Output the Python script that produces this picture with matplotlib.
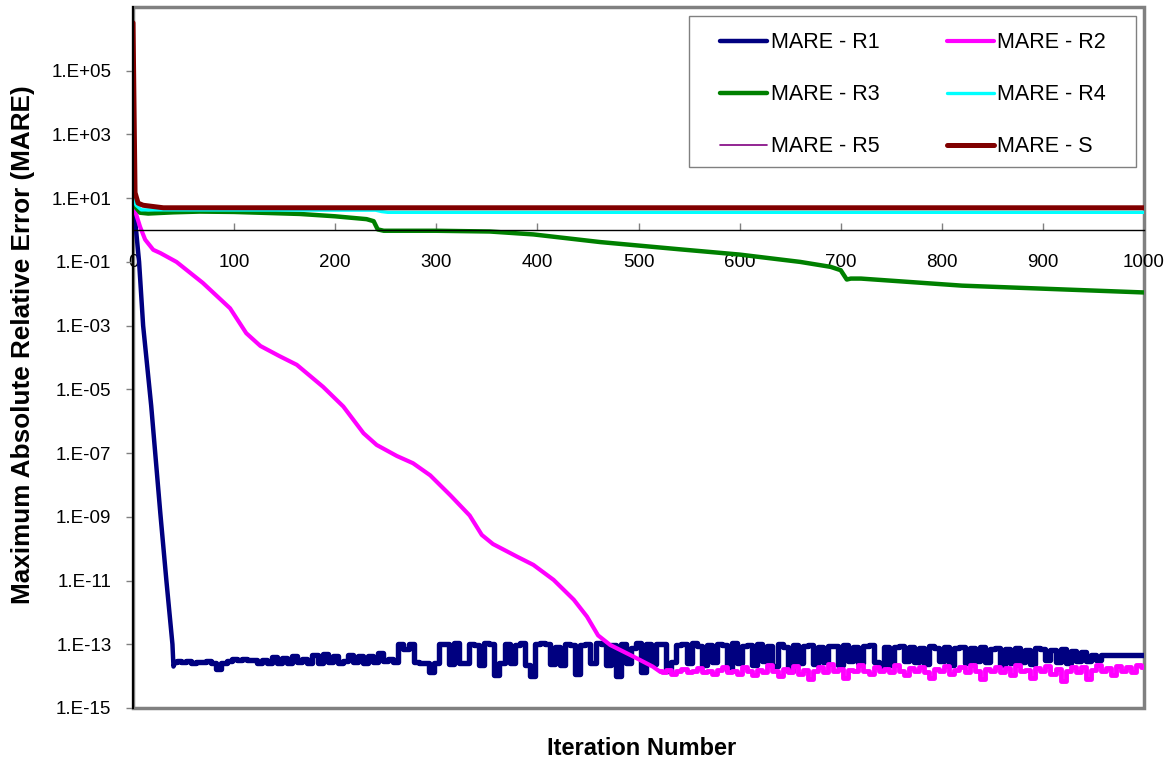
import numpy as np
import matplotlib
matplotlib.use("Agg")
import matplotlib.pyplot as plt
from matplotlib.patches import Rectangle
from matplotlib.ticker import FixedLocator, FuncFormatter, NullLocator

plt.rcParams['font.family'] = ['Liberation Sans', 'DejaVu Sans']

# ---- data (iteration, MARE) ----
# R1: steep drop, then noise floor (noise values in units of 1e-14, every 5 iterations)
r1_head_x = [0, 3, 6, 10, 18, 27, 33, 39, 40, 42]
r1_head_y = [10, 1.0, 0.1, 1e-3, 3e-6, 1.3e-9, 1e-11, 1e-13, 2.0e-14, 2.8e-14]
r1_tail_start = 45
r1_tail_e14 = [
  2.9, 2.7, 2.9, 2.6, 2.8, 2.7, 2.9, 2.5, 1.7, 2.6,
  3.0, 3.4, 3.2, 3.5, 3.3, 3.2, 2.5, 3.1, 2.6, 4.0,
  2.6, 3.6, 2.5, 4.3, 2.7, 3.4, 2.6, 4.5, 2.6, 4.8,
  2.8, 4.2, 2.6, 3.0, 4.6, 2.7, 4.4, 2.6, 4.2, 2.8,
  5.2, 2.9, 3.4, 2.8, 10.5, 7.0, 10.0, 2.7, 2.6, 2.6,
  1.3,
  2.6, 10.5, 10.0, 2.4, 11.0, 2.6, 2.5, 10.2, 9.6, 2.2,
  10.8, 10.1, 1.1, 2.5, 10.4, 2.6, 9.6, 10.9, 2.3, 1.0,
  9.9, 10.6, 10.2, 2.4, 8.4, 2.2, 10.3, 9.8, 1.2, 9.7,
  10.1, 2.5, 10.8, 9.9, 2.3, 9.2, 1.0, 10.4, 2.6, 7.8,
  10.6, 1.3, 9.9, 2.4, 10.2, 10.5, 1.4, 2.7, 9.4, 10.5,
  2.5, 10.7, 8.9, 2.2, 9.6, 2.8, 10.0, 9.3, 1.6, 10.6,
  2.6, 8.7, 9.8, 2.3, 10.2, 2.9, 9.0, 2.1, 10.4, 8.2,
  1.5, 9.8, 2.6, 8.9, 9.5, 2.4, 8.0, 2.7, 9.1, 8.6,
  2.3, 9.4, 2.9, 8.3, 2.5, 8.8, 9.2, 2.8, 1.8, 8.5,
  2.2, 8.1, 8.9, 3.0, 8.4, 2.7, 7.9, 2.4, 8.7, 7.6,
  2.9, 8.3, 2.3, 7.8, 8.0, 2.6, 7.4, 3.0, 8.2, 2.8,
  7.1, 7.7, 2.2, 7.3, 2.5, 7.9, 2.8, 6.8, 2.4, 7.5,
  7.0, 3.1, 6.6, 2.7, 6.9, 2.6, 6.2, 3.0, 5.8, 2.9,
  4.6, 3.3, 4.6, 4.6, 4.5, 4.6, 4.6, 4.5, 4.6, 4.6,
  4.6,
]

# R2: smooth decay, then noise floor (noise in units of 1e-14, every 5 iterations)
r2_head_x = [0, 3, 7, 12, 20, 27, 43, 69, 96, 112, 126, 145, 162, 188, 208, 228, 241,
             261, 277, 294, 314, 333, 345, 356, 380, 396, 416, 436, 449, 460, 472,
             495, 514, 521]
r2_head_y = [10, 3.2, 1.26, 0.5, 0.24, 0.19, 0.1, 0.022, 3.5e-3, 5.8e-4, 2.3e-4, 1.1e-4,
             5.9e-5, 1.2e-5, 2.9e-6, 4.2e-7, 1.8e-7, 8.1e-8, 4.8e-8, 2.0e-8, 4.7e-9,
             1.1e-9, 2.7e-10, 1.4e-10, 5.6e-11, 3.1e-11, 1.05e-11, 2.5e-12, 7.4e-13,
             1.9e-13, 9.5e-14, 4.1e-14, 2.0e-14, 1.4e-14]
r2_tail_start = 525
r2_tail_e14 = [
  1.3, 1.6, 1.2, 1.5, 1.7, 1.3, 1.4, 1.8, 1.3, 1.5,
  1.2, 1.6, 2.0, 1.3, 1.5, 1.2, 1.9, 1.4, 1.1, 1.6,
  1.3, 2.2, 1.4, 1.0, 1.7, 1.3, 2.1, 1.2, 1.6, 0.8,
  1.5, 1.9, 1.3, 2.4, 1.4, 1.7, 0.9, 1.6, 1.4, 2.3,
  1.5, 1.2, 2.0, 1.4, 1.7, 1.3, 2.2, 1.5, 1.1, 1.8,
  1.4, 2.0, 1.3, 0.9, 1.7, 1.5, 2.1, 1.2, 1.6, 1.9,
  1.3, 2.3, 1.4, 0.8, 1.7, 1.5, 2.0, 1.3, 1.8, 1.1,
  2.2, 1.4, 1.6, 0.9, 1.8, 1.4, 2.1, 1.2, 1.7, 0.7,
  1.5, 2.0, 1.3, 1.9, 0.8, 1.6, 2.2, 1.4, 1.8, 1.1,
  2.1, 1.5, 1.9, 1.3, 2.2, 2.0,
]

r3_x = [0, 3, 7, 15, 40, 66, 100, 165, 200, 231, 238, 242, 248, 300, 353, 396, 462,
        540, 600, 660, 690, 700, 706, 710, 720, 820, 1000]
r3_y = [10, 5, 3.5, 3.3, 3.6, 3.8, 3.7, 3.2, 2.7, 2.2, 1.9, 1.05, 0.95, 0.95, 0.9,
        0.73, 0.42, 0.25, 0.17, 0.1, 0.07, 0.055, 0.028, 0.03, 0.03, 0.018, 0.011]

r4_x = [0, 3, 8, 20, 240, 246, 252, 1000]
r4_y = [10, 6, 4.3, 4.3, 4.2, 3.8, 3.6, 3.6]

r5_x = [0, 2, 6, 30, 1000]
r5_y = [3e6, 20, 6, 5.0, 5.0]

s_x = [0, 2, 5, 10, 30, 1000]
s_y = [3.2e6, 15, 7, 6, 5.0, 5.0]

x_ticks = list(range(0, 1001, 100))
y_exps = list(range(-15, 6, 2))

# ---- assemble noisy tails ----
r1_tail_x = [r1_head_x[-1]] + list(range(r1_tail_start, r1_tail_start + 5 * len(r1_tail_e14), 5))
r1_tail_y = [r1_head_y[-1]] + [v * 1e-14 for v in r1_tail_e14]
r2_tail_x = [r2_head_x[-1]] + list(range(r2_tail_start, r2_tail_start + 5 * len(r2_tail_e14), 5))
r2_tail_y = [r2_head_y[-1]] + [v * 1e-14 for v in r2_tail_e14]

navy, magenta, green = '#000080', '#FF00FF', '#008000'
cyan, purple, maroon = '#00FFFF', '#800080', '#800000'

fig = plt.figure(figsize=(11.72, 7.63), dpi=100)
ax = fig.add_axes([0.1135, 0.0721, 0.8626, 0.9187])

l1, = ax.plot(r1_head_x, r1_head_y, color=navy, lw=3.2, label='MARE - R1')
ax.plot(r1_tail_x, r1_tail_y, color=navy, lw=3.9, drawstyle='steps-mid')
l2, = ax.plot(r2_head_x, r2_head_y, color=magenta, lw=3.0, label='MARE - R2')
ax.plot(r2_tail_x, r2_tail_y, color=magenta, lw=3.5, drawstyle='steps-mid')
l3, = ax.plot(r3_x, r3_y, color=green, lw=3.2, label='MARE - R3')
l4, = ax.plot(r4_x, r4_y, color=cyan, lw=2.4, label='MARE - R4')
l5, = ax.plot(r5_x, r5_y, color=purple, lw=1.2, label='MARE - R5')
l6, = ax.plot(s_x, s_y, color=maroon, lw=3.6, label='MARE - S')
for ln in ax.get_lines():
  ln.set_solid_capstyle('round')
  ln.set_solid_joinstyle('round')

ax.set_yscale('log')
ax.set_ylim(1e-15, 1e7)
ax.set_xlim(0, 1000)

ax.yaxis.set_major_locator(FixedLocator([10.0 ** e for e in y_exps]))
ax.yaxis.set_minor_locator(NullLocator())
ax.yaxis.set_major_formatter(FuncFormatter(
  lambda v, p: "1.E%+03d" % int(round(np.log10(v)))))
ax.tick_params(axis='y', direction='out', length=5, width=1, color='#808080',
               labelsize=13.5, pad=10.5)

ax.set_xticks(x_ticks)
ax.set_xticklabels([str(t) for t in x_ticks])
ax.tick_params(axis='x', direction='in', length=5, width=1, color='#808080',
               labelsize=13.5, pad=17)

# x axis crosses at 1.E+00, plot area framed in grey
ax.spines['bottom'].set_position(('data', 1))
ax.spines['bottom'].set_linewidth(1.0)
ax.spines['left'].set_linewidth(1.5)
ax.spines['top'].set_visible(False)
ax.spines['right'].set_visible(False)
ax.patch.set_edgecolor('#808080')
ax.patch.set_linewidth(2.5)

ax.set_ylabel('Maximum Absolute Relative Error (MARE)', fontsize=18.8, fontweight='bold')
ax.yaxis.set_label_coords(-0.097, 0.518)
ax.set_xlabel('Iteration Number', fontsize=17, fontweight='bold')
ax.xaxis.set_label_coords(0.503, -0.042)

# legend: entries laid out inside a grey box
leg = ax.legend(handles=[l1, l3, l5, l2, l4, l6], ncol=2, loc='upper left',
                bbox_to_anchor=(0.5806, 0.75, 0.3818, 0.2143), mode='expand',
                borderaxespad=0, borderpad=0, fontsize=15.5, frameon=False,
                handlelength=2.2, handletextpad=0.15, labelspacing=1.45)
ax.add_patch(Rectangle((0.550, 0.7718), 0.442, 0.2154, transform=ax.transAxes,
                       facecolor='white', edgecolor='#808080', lw=1.0, zorder=4))
leg.set_zorder(5)

fig.savefig('out.png', dpi=100)
